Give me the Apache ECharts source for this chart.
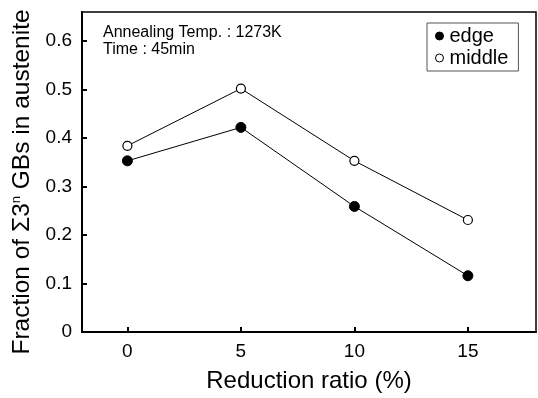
<!DOCTYPE html>
<html>
<head>
<meta charset="utf-8">
<script src="https://cdn.jsdelivr.net/npm/echarts@6/dist/echarts.min.js"></script>
<style>
  html, body { margin: 0; padding: 0; background: #fff; }
  #chart { width: 538px; height: 398px; }
</style>
</head>
<body>
<div id="chart"></div>
<script>
// data
const reduction = [0, 5, 10, 15];
const edge = [0.353, 0.422, 0.259, 0.116];
const middle = [0.384, 0.502, 0.353, 0.231];
const xTicks = [0, 5, 10, 15];
const yTicks = [0, 0.1, 0.2, 0.3, 0.4, 0.5, 0.6];

const font = 'Liberation Sans, Arial, sans-serif';
const chart = echarts.init(document.getElementById('chart'));

chart.setOption({
    animation: false,
    grid: {
        left: 82, right: 2, top: 12, bottom: 62,
        show: true, borderColor: '#000', borderWidth: 1.5
    },
    xAxis: {
        type: 'value', min: -2, max: 18,
        name: 'Reduction ratio (%)', nameLocation: 'middle', nameGap: 37,
        nameTextStyle: { fontFamily: font, fontSize: 24, color: '#000' },
        axisLine: { onZero: false, lineStyle: { color: '#000', width: 2 } },
        axisTick: { inside: true, length: 5, customValues: xTicks, lineStyle: { color: '#000', width: 2 } },
        axisLabel: { customValues: xTicks, margin: 10, fontFamily: font, fontSize: 19, color: '#000' },
        splitLine: { show: false }
    },
    yAxis: {
        type: 'value', min: 0, max: 0.66,
        name: 'Fraction of Σ3{sup|n} GBs in austenite',
        nameLocation: 'middle', nameGap: 45, nameRotate: 90,
        nameTextStyle: {
            fontFamily: font, fontSize: 24.5, color: '#000', padding: [0, 20, 0, 0],
            rich: { sup: { fontFamily: font, fontSize: 13, color: '#000', verticalAlign: 'top', padding: [0, 0, 12, 0] } }
        },
        axisLine: { onZero: false, lineStyle: { color: '#000', width: 2 } },
        axisTick: { inside: true, length: 5, customValues: yTicks, lineStyle: { color: '#000', width: 2 } },
        axisLabel: { customValues: yTicks, margin: 10, fontFamily: font, fontSize: 19, color: '#000',
            formatter: v => v === 0 ? '0' : v.toFixed(1) },
        splitLine: { show: false }
    },
    legend: {
        left: 427, top: 23, orient: 'vertical',
        borderColor: '#555', borderWidth: 1,
        padding: [3, 10, 3, 8], itemGap: 2,
        itemWidth: 8, itemHeight: 8, icon: 'circle',
        textStyle: { fontFamily: font, fontSize: 20, color: '#000', padding: [0, 0, 0, 1] },
        data: [
            { name: 'edge', itemStyle: { color: '#000', borderColor: '#000', borderWidth: 1 } },
            { name: 'middle', itemStyle: { color: '#fff', borderColor: '#000', borderWidth: 1 } }
        ]
    },
    graphic: [{
        type: 'text', left: 103, top: 24,
        style: {
            text: 'Annealing Temp. : 1273K\nTime : 45min',
            fontFamily: font, fontSize: 16, lineHeight: 17, fill: '#000'
        }
    }],
    series: [
        {
            name: 'edge', type: 'line',
            data: reduction.map((x, i) => [x, edge[i]]),
            symbol: 'circle', symbolSize: 10,
            itemStyle: { color: '#000', borderColor: '#000', borderWidth: 1 },
            lineStyle: { color: '#000', width: 1 }
        },
        {
            name: 'middle', type: 'line',
            data: reduction.map((x, i) => [x, middle[i]]),
            symbol: 'circle', symbolSize: 9,
            itemStyle: { color: '#fff', borderColor: '#000', borderWidth: 1.2 },
            lineStyle: { color: '#000', width: 1 }
        }
    ]
});
</script>
</body>
</html>
